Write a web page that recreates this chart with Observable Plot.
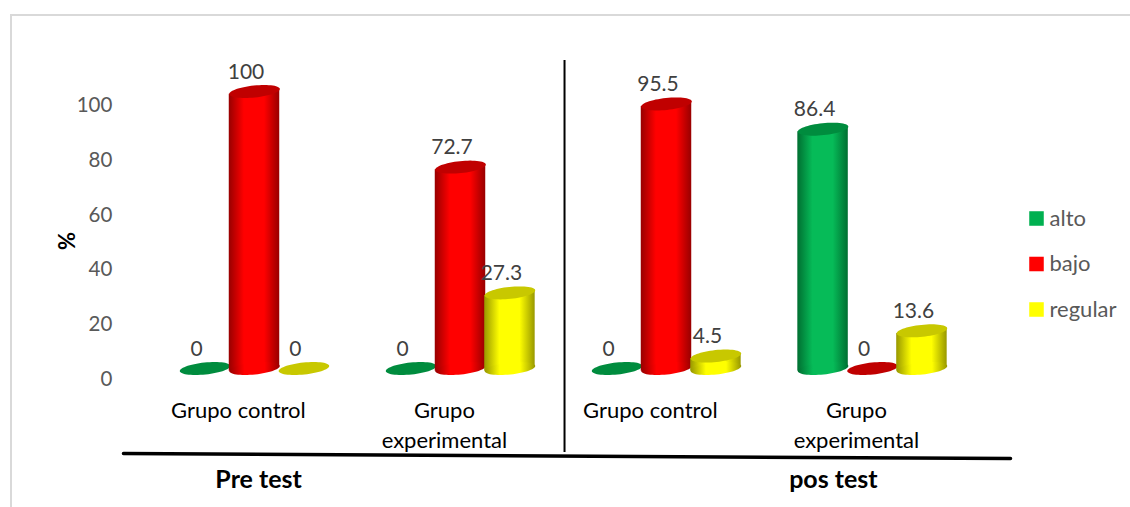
<!DOCTYPE html>
<html><head><meta charset="utf-8">
<script src="https://cdn.jsdelivr.net/npm/d3@7"></script>
<script src="https://cdn.jsdelivr.net/npm/@observablehq/plot@0.6"></script>
<style>
html,body{margin:0;background:#fff;overflow:hidden}
#frame{position:absolute;left:10px;top:14px;width:1130px;height:500px;border-left:2px solid #d9d9d9;border-top:2px solid #d9d9d9}
#chart{position:absolute;left:0;top:0}
</style></head><body>
<div id="frame"></div><div id="chart"></div>
<script>
const groups = ["Grupo control", "Grupo\nexperimental", "Grupo control", "Grupo\nexperimental"];
const series = ["alto", "bajo", "regular"];
const alto = [0, 0, 0, 86.4];
const bajo = [100, 72.7, 95.5, 0];
const regular = [0, 27.3, 4.5, 13.6];
const ticks = [0, 20, 40, 60, 80, 100];
const phases = ["Pre test", "pos test"];
const values = {alto, bajo, regular};
const shades = {
  alto: {id:"gAlto", edge:"#006f31", mid:"#06bb58", top:"#008c3e", key:"#00b050"},
  bajo: {id:"gBajo", edge:"#980000", mid:"#ff0000", top:"#c00000", key:"#ff0000"},
  regular: {id:"gReg", edge:"#989800", mid:"#ffff00", top:"#c8c800", key:"#ffff00"}
};
const rows = series.flatMap((s,si)=>groups.map((g,gi)=>({s, si, gi, v:values[s][gi], x:gi+(si-1)*0.24})));
const tiltDeg = 6, halfW = 0.1225, lean = 0.95;
const ellipse = {draw(ctx,size){
  const a=Math.sqrt(size/Math.PI), b=a*0.235, rot=-tiltDeg*Math.PI/180, n=60;
  for(let i=0;i<n;i++){const t=i/n*2*Math.PI, ex=a*Math.cos(t), ey=b*Math.sin(t);
    const px=ex*Math.cos(rot)-ey*Math.sin(rot), py=ex*Math.sin(rot)+ey*Math.cos(rot);
    i?ctx.lineTo(px,py):ctx.moveTo(px,py);}
  ctx.closePath();
}};
const defs = () => {
  const d=document.createElementNS("http://www.w3.org/2000/svg","defs");
  d.innerHTML=Object.values(shades).map(c=>`<linearGradient id="${c.id}" x1="0" x2="1" y1="0" y2="0">
  <stop offset="0" stop-color="${c.edge}"/><stop offset="0.3" stop-color="${c.mid}"/><stop offset="0.7" stop-color="${c.mid}"/><stop offset="1" stop-color="${c.edge}"/></linearGradient>`).join("");
  return d;
};
const font="Lato, Carlito, sans-serif";
const cylinders = series.flatMap(s=>{
  const c=shades[s], data=rows.filter(r=>r.s===s), pos=data.filter(r=>r.v>0);
  const sides=pos.flatMap(r=>[-1,1].map(k=>({gi:r.gi,x:r.x+k*halfW,y1:k*lean,y2:r.v+k*lean})));
  return [
    Plot.areaY(sides,{x:"x",y1:"y1",y2:"y2",z:"gi",fill:`url(#${c.id})`}),
    Plot.dot(pos,{x:"x",y:0,r:25.4,symbol:ellipse,fill:`url(#${c.id})`}),
    Plot.dot(data,{x:"x",y:"v",r:25.4,symbol:ellipse,fill:c.top})
  ];
});
const plot = Plot.plot({
  width:1130,height:507,margin:0,
  x:{axis:null,type:"linear",domain:[-254/206,(1130-254)/206],range:[0,1130]},
  y:{axis:null,type:"linear",domain:[(368-507)/2.77,368/2.77],range:[507,0]},
  style:{background:"transparent",fontFamily:font},
  marks:[
    defs,
    ...ticks.map(t=>Plot.text([t],{x:()=>-0.69,y:d=>d,dy:11+t*0.03,text:d=>String(d),textAnchor:"end",fontSize:20.5,fill:"#595959"})),
    Plot.text(["%"],{x:()=>-0.905,y:()=>46,text:d=>d,rotate:-90,fontSize:22,fontWeight:700,fill:"#000"}),
    ...cylinders,
    Plot.text(rows,{x:"x",y:"v",dx:-8.5,dy:-19.5,text:r=>String(r.v),fontSize:21,fill:"#404040"}),
    Plot.text(groups,{x:(d,i)=>i-0.078,y:()=>0,dy:28,text:d=>d,lineAnchor:"top",lineHeight:1.36,fontSize:22,fill:"#000"}),
    Plot.ruleX([1.505],{y1:111.2,y2:-30.3,stroke:"#000",strokeWidth:2}),
    Plot.line([[-0.636,-30.7],[3.67,-32.5]],{x:d=>d[0],y:d=>d[1],stroke:"#000",strokeWidth:3.5}),
    Plot.text(phases,{x:(d,i)=>i?2.81:0.02,y:()=>-40.4,text:d=>d,fontSize:25,fontWeight:700,fill:"#000"}),
    ...series.flatMap((s,i)=>[
      Plot.dot([s],{frameAnchor:"top-left",dx:1036,dy:218+45.5*i,symbol:"square",r:8.2,fill:shades[s].key}),
      Plot.text([s],{frameAnchor:"top-left",dx:1049,dy:218+45.5*i,text:d=>d,textAnchor:"start",lineAnchor:"middle",fontSize:22,fill:"#595959"})
    ])
  ]
});
document.getElementById("chart").append(plot);
</script>
</body></html>
